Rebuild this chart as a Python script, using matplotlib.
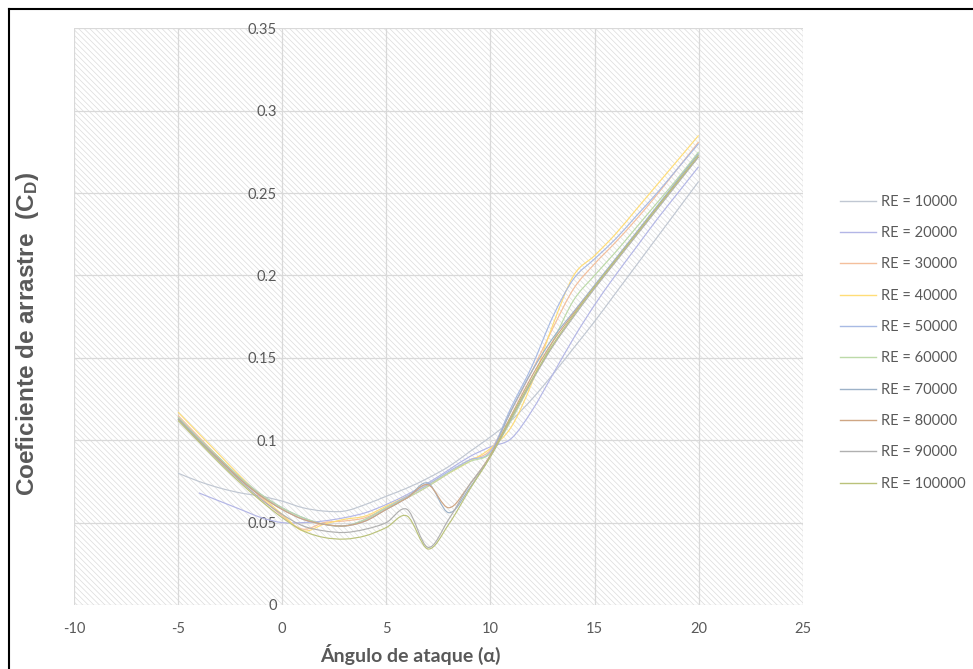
import numpy as np
import matplotlib
matplotlib.use('Agg')
import matplotlib.pyplot as plt
from matplotlib.path import Path
from matplotlib.patches import PathPatch, Rectangle
from matplotlib.lines import Line2D

plt.rcParams['font.family'] = ['Lato', 'DejaVu Sans']
plt.rcParams['hatch.linewidth'] = 0.5
plt.rcParams['axes.unicode_minus'] = False

# angle of attack (deg)
angles = list(range(-5, 21))

# drag coefficient per Reynolds number
cd_10000 = [0.080, 0.075, 0.071, 0.068, 0.066, 0.063, 0.059, 0.057, 0.057, 0.061, 0.066, 0.071, 0.077,
            0.084, 0.093, 0.102, 0.112, 0.125, 0.140, 0.156, 0.172, 0.189, 0.206, 0.223, 0.240, 0.257]
cd_20000 = [None, 0.068, 0.063, 0.058, 0.053, 0.050, 0.050, 0.051, 0.053, 0.056, 0.061, 0.067, 0.074,
            0.082, 0.090, 0.096, 0.101, 0.118, 0.140, 0.162, 0.182, 0.200, 0.217, 0.234, 0.250, 0.266]
cd_30000 = [0.115, 0.102, 0.089, 0.077, 0.065, 0.054, 0.046, 0.050, 0.051, 0.053, 0.059, 0.065, 0.072,
            0.080, 0.088, 0.094, 0.118, 0.142, 0.168, 0.192, 0.207, 0.220, 0.234, 0.249, 0.265, 0.281]
cd_40000 = [0.117, 0.104, 0.091, 0.078, 0.066, 0.055, 0.045, 0.049, 0.052, 0.054, 0.060, 0.066, 0.073,
            0.080, 0.087, 0.095, 0.108, 0.135, 0.170, 0.200, 0.212, 0.225, 0.240, 0.255, 0.270, 0.285]
cd_50000 = [0.114, 0.101, 0.089, 0.077, 0.067, 0.059, 0.053, 0.049, 0.048, 0.052, 0.059, 0.066, 0.073,
            0.081, 0.088, 0.093, 0.120, 0.145, 0.175, 0.198, 0.210, 0.222, 0.236, 0.250, 0.265, 0.280]
cd_60000 = [0.114, 0.101, 0.089, 0.077, 0.067, 0.059, 0.053, 0.049, 0.048, 0.052, 0.059, 0.065, 0.072,
            0.080, 0.087, 0.092, 0.112, 0.136, 0.160, 0.185, 0.200, 0.214, 0.229, 0.244, 0.259, 0.275]
cd_70000 = [0.113, 0.100, 0.088, 0.076, 0.066, 0.058, 0.052, 0.049, 0.048, 0.051, 0.058, 0.065, 0.074,
            0.056, 0.071, 0.091, 0.118, 0.142, 0.162, 0.178, 0.194, 0.210, 0.226, 0.242, 0.258, 0.274]
cd_80000 = [0.113, 0.100, 0.088, 0.076, 0.066, 0.058, 0.052, 0.049, 0.048, 0.051, 0.058, 0.065, 0.073,
            0.059, 0.073, 0.091, 0.115, 0.139, 0.160, 0.177, 0.193, 0.209, 0.225, 0.241, 0.257, 0.272]
cd_90000 = [0.113, 0.100, 0.087, 0.075, 0.064, 0.055, 0.048, 0.045, 0.044, 0.046, 0.050, 0.058, 0.035,
            0.052, 0.073, 0.090, 0.113, 0.136, 0.157, 0.175, 0.192, 0.208, 0.224, 0.240, 0.256, 0.272]
cd_100000 = [0.112, 0.099, 0.086, 0.074, 0.063, 0.053, 0.045, 0.041, 0.040, 0.042, 0.047, 0.054, 0.034,
             0.049, 0.070, 0.090, 0.114, 0.137, 0.158, 0.176, 0.193, 0.209, 0.225, 0.241, 0.257, 0.273]

labels = ['RE = 10000', 'RE = 20000', 'RE = 30000', 'RE = 40000', 'RE = 50000',
          'RE = 60000', 'RE = 70000', 'RE = 80000', 'RE = 90000', 'RE = 100000']
series = [cd_10000, cd_20000, cd_30000, cd_40000, cd_50000,
          cd_60000, cd_70000, cd_80000, cd_90000, cd_100000]
colors = ['#c0c7d2', '#b3b6e6', '#f4bf9c', '#ffdd77', '#a8bae4',
          '#bcdaa8', '#9db2c8', '#cfa684', '#b0b0b0', '#bac27a']


def smooth_path(xs, ys):
    # Excel-style smoothed line: cubic Bezier segments through the points
    pts = [(x, y) for x, y in zip(xs, ys) if y is not None]
    p = np.array(pts, dtype=float)
    verts = [tuple(p[0])]
    codes = [Path.MOVETO]
    n = len(p)
    for i in range(n - 1):
        p0 = p[i - 1] if i > 0 else p[i]
        p1, p2 = p[i], p[i + 1]
        p3 = p[i + 2] if i + 2 < n else p[i + 1]
        c1 = p1 + (p2 - p0) / 6.0
        c2 = p2 - (p3 - p1) / 6.0
        verts += [tuple(c1), tuple(c2), tuple(p2)]
        codes += [Path.CURVE4] * 3
    return Path(verts, codes)


fig = plt.figure(figsize=(9.73, 6.69), dpi=100)
ax = fig.add_axes([0.076, 0.0957, 0.749, 0.862])

# hatched plot area
ax.add_patch(Rectangle((0, 0), 1, 1, transform=ax.transAxes, facecolor='white',
                       edgecolor='#dcdcdc', hatch='\\\\\\\\\\\\', linewidth=0, zorder=0))

ax.set_xlim(-10, 25)
ax.set_ylim(0, 0.35)
ax.set_xticks(range(-10, 26, 5))
ax.set_yticks(np.arange(0, 0.351, 0.05))
ax.set_yticklabels(['0', '0.05', '0.1', '0.15', '0.2', '0.25', '0.3', '0.35'])
ax.grid(True, color='#d9d9d9', linewidth=0.9, zorder=1)
ax.set_axisbelow(True)

for s in ['top', 'right', 'bottom']:
    ax.spines[s].set_visible(False)
ax.spines['left'].set_position(('data', 0))
ax.spines['left'].set_visible(False)
ax.tick_params(axis='both', length=0, labelsize=10.5, labelcolor='#595959')
ax.tick_params(axis='x', pad=12)
ax.tick_params(axis='y', pad=4)

handles = []
for vals, lab, col in zip(series, labels, colors):
    ax.add_patch(PathPatch(smooth_path(angles, vals), facecolor='none', edgecolor=col,
                           linewidth=0.85, zorder=3))
    handles.append(Line2D([], [], color=col, linewidth=1.0, label=lab))

leg = fig.legend(handles=handles, loc='upper left', bbox_to_anchor=(0.851, 0.7265),
                 frameon=False, fontsize=10.5, labelspacing=1.19, handlelength=2.5,
                 handletextpad=0.35, borderpad=0.3)
for t in leg.get_texts():
    t.set_color('#595959')

fig.text(0.422, 0.022, 'Ángulo de ataque (α)', fontsize=14, fontweight='bold',
         color='#595959', ha='center', va='center')
fig.text(0.028, 0.50, 'Coeficiente de arrastre  (C$\\mathregular{_D}$)', fontsize=17.5,
         fontweight='bold', color='#595959', ha='center', va='center', rotation=90,
         family=['Liberation Sans', 'DejaVu Sans'])

# outer frame (left and top edges visible)
fig.add_artist(Line2D([0.0095, 0.0095], [0, 0.9865], color='black', linewidth=1.5,
                      transform=fig.transFigure))
fig.add_artist(Line2D([0.0095, 1.0], [0.9865, 0.9865], color='black', linewidth=1.5,
                      transform=fig.transFigure))

fig.savefig('out.png', dpi=100)
